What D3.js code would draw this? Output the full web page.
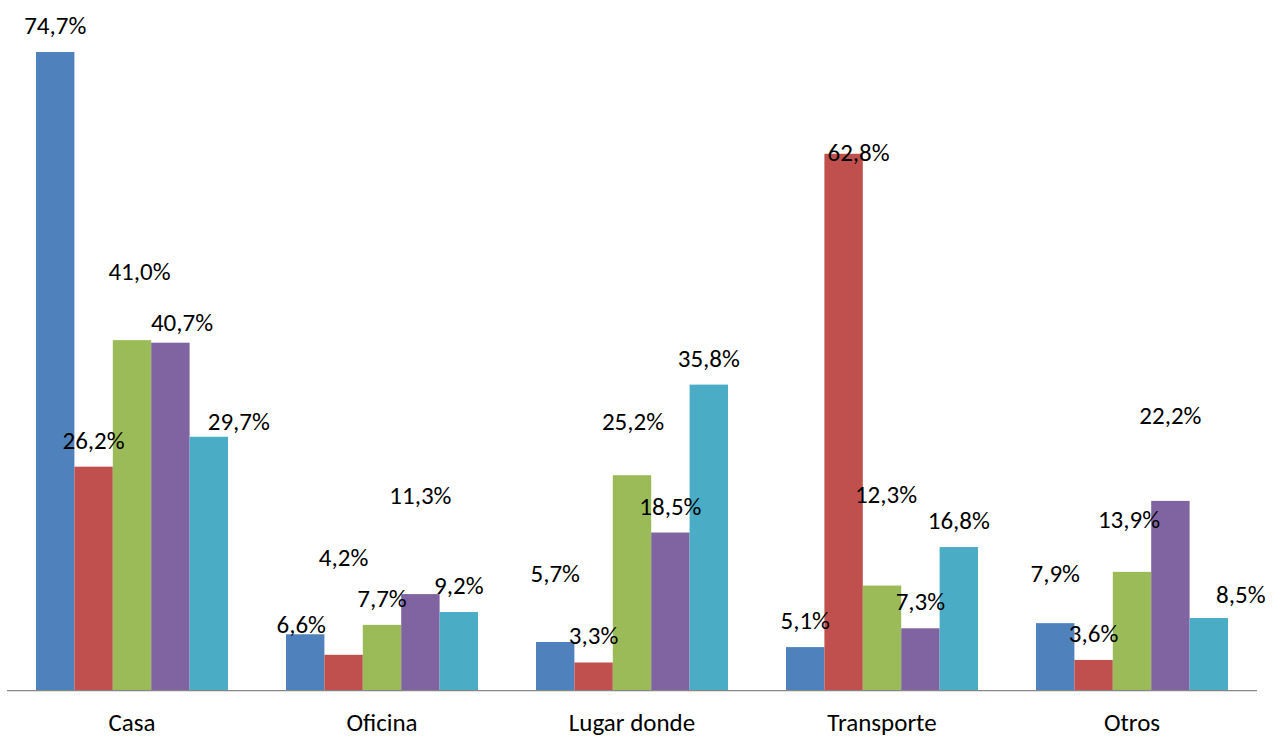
<!DOCTYPE html>
<html>
<head>
<meta charset="utf-8">
<script src="https://cdn.jsdelivr.net/npm/d3@7"></script>
<style>
  html, body { margin: 0; padding: 0; background: #ffffff; }
  svg text { font-family: Carlito, Lato, "Open Sans", sans-serif; fill: #000; }
</style>
</head>
<body>
<svg id="chart" width="1272" height="738"></svg>
<script>
// Categories along the x axis
const categories = ["Casa", "Oficina", "Lugar donde", "Transporte", "Otros"];

// One value list per series (percent), in category order
const serie1 = [74.7, 6.6, 5.7, 5.1, 7.9];
const serie2 = [26.2, 4.2, 3.3, 62.8, 3.6];
const serie3 = [41.0, 7.7, 25.2, 12.3, 13.9];
const serie4 = [40.7, 11.3, 18.5, 7.3, 22.2];
const serie5 = [29.7, 9.2, 35.8, 16.8, 8.5];

const seriesNames = ["serie1", "serie2", "serie3", "serie4", "serie5"];
const seriesValues = [serie1, serie2, serie3, serie4, serie5];
const seriesColors = ["#4F81BD", "#C0504D", "#9BBB59", "#8064A2", "#4BACC6"];

// Hand-placed data label offsets [dx, dy] per series and category
const labelNudge = [
  [[0, 0], [-4, 17], [0, -42], [0, 0], [0, -23]],
  [[0, 0], [0, -71], [0, 0], [15, 25], [0, 0]],
  [[7.5, -42], [0, 0], [1, -27], [4, -65], [-3, -26]],
  [[11.6, 6], [0, -72], [0, 0], [0, 0], [0, -59]],
  [[30, 11], [0, 0], [0, 0], [0, 0], [32, 3]]
];

const fmt = v => d3.format(".1f")(v).replace(".", ",") + "%";

const svg = d3.select("#chart");
const plot = { left: 7, right: 1257, top: 6.7, bottom: 690.7 };

const x0 = d3.scaleBand()
  .domain(categories)
  .range([plot.left, plot.right])
  .paddingInner(0.232)
  .paddingOuter(0.116);

const x1 = d3.scaleBand()
  .domain(seriesNames)
  .range([0, x0.bandwidth()])
  .padding(0);

const y = d3.scaleLinear()
  .domain([0, 80])
  .range([plot.bottom, plot.top]);

const color = d3.scaleOrdinal().domain(seriesNames).range(seriesColors);

// Flatten into one record per bar
const bars = [];
seriesNames.forEach((s, si) => {
  categories.forEach((c, ci) => {
    bars.push({ s, c, v: seriesValues[si][ci], nudge: labelNudge[si][ci] });
  });
});

// Bars
svg.append("g")
  .selectAll("rect")
  .data(bars)
  .join("rect")
  .attr("x", d => x0(d.c) + x1(d.s))
  .attr("y", d => y(d.v))
  .attr("width", x1.bandwidth())
  .attr("height", d => y(0) - y(d.v))
  .attr("fill", d => color(d.s));

// Category axis (line only, no ticks)
const xAxis = d3.axisBottom(x0).tickSize(0).tickPadding(0).tickSizeOuter(0);
const gx = svg.append("g")
  .attr("transform", `translate(0,${y(0)})`)
  .call(xAxis);
gx.select(".domain")
  .attr("stroke", "#868686")
  .attr("stroke-width", 1.3)
  .attr("d", `M${plot.left},0H${plot.right}`);
gx.selectAll(".tick text")
  .attr("y", 40)
  .attr("dy", 0)
  .style("font-size", "25px")
  .style("font-family", "Carlito, Lato, 'Open Sans', sans-serif")
  .attr("fill", "#000");

// Data labels
svg.append("g")
  .selectAll("text")
  .data(bars)
  .join("text")
  .attr("text-anchor", "middle")
  .attr("x", d => x0(d.c) + x1(d.s) + x1.bandwidth() / 2 + d.nudge[0])
  .attr("y", d => y(d.v) - 18 + d.nudge[1])
  .style("font-size", "25px")
  .text(d => fmt(d.v));
</script>
</body>
</html>
